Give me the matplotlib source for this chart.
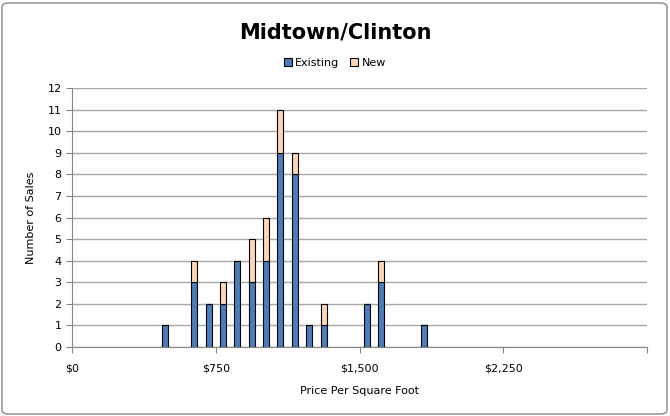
import numpy as np
import matplotlib.pyplot as plt
from matplotlib.patches import FancyBboxPatch

# $75 price bins, 40 of them ($0 .. $2,925)
n_bins = 40
bin_idx = [6, 8, 9, 10, 11, 12, 13, 14, 15, 16, 17, 20, 21, 24]
existing = [1, 3, 2, 2, 4, 3, 4, 9, 8, 1, 1, 2, 3, 1]
new = [0, 1, 0, 1, 0, 2, 2, 2, 1, 0, 1, 0, 1, 0]
tick_pos = [0, 10, 20, 30, 40]
tick_labels = ["$0", "$750", "$1,500", "$2,250", ""]

blue = "#4a7ebb"
peach = "#fcd5b4"

fig = plt.figure(figsize=(6.7, 4.16), dpi=100)
ax = fig.add_axes([72 / 670, 1 - 347 / 416, 575 / 670, 259 / 416])

x = np.array(bin_idx) + 0.5
w = 0.42
ax.bar(x, existing, w, color=blue, edgecolor="black", linewidth=0.8, label="Existing", zorder=3)
ax.bar(x, new, w, bottom=existing, color=peach, edgecolor="black", linewidth=0.8, label="New", zorder=3)

ax.set_xlim(0, n_bins)
ax.set_ylim(0, 12)
ax.set_yticks(range(13))
ax.set_xticks(tick_pos)
ax.set_xticklabels(tick_labels)
ax.grid(axis="y", color="#a6a6a6", linewidth=1.0, zorder=0)
for s in ["top", "right"]:
    ax.spines[s].set_visible(False)
ax.spines["left"].set_color("#868686")
ax.spines["bottom"].set_color("#868686")
ax.tick_params(axis="both", colors="#868686", labelcolor="black", labelsize=8, length=4)
ax.tick_params(axis="x", pad=8)

ax.set_xlabel("Price Per Square Foot", fontsize=8, labelpad=9)
ax.set_ylabel("Number of Sales", fontsize=8, labelpad=8)

fig.text(0.5, 1 - 33 / 416, "Midtown/Clinton", ha="center", va="center",
         fontsize=15, fontweight="bold")
fig.legend(loc="center", bbox_to_anchor=(0.5, 1 - 63 / 416), ncol=2, frameon=False,
           fontsize=8, handlelength=0.7, handleheight=0.7, handletextpad=0.3,
           columnspacing=1.0)

fig.patches.append(FancyBboxPatch((2 / 670, 2 / 416), 665 / 670, 411 / 416,
                                  boxstyle="round,pad=0,rounding_size=0.01",
                                  transform=fig.transFigure, fill=False,
                                  edgecolor="#868686", linewidth=1))

fig.savefig("out.png", dpi=100)
